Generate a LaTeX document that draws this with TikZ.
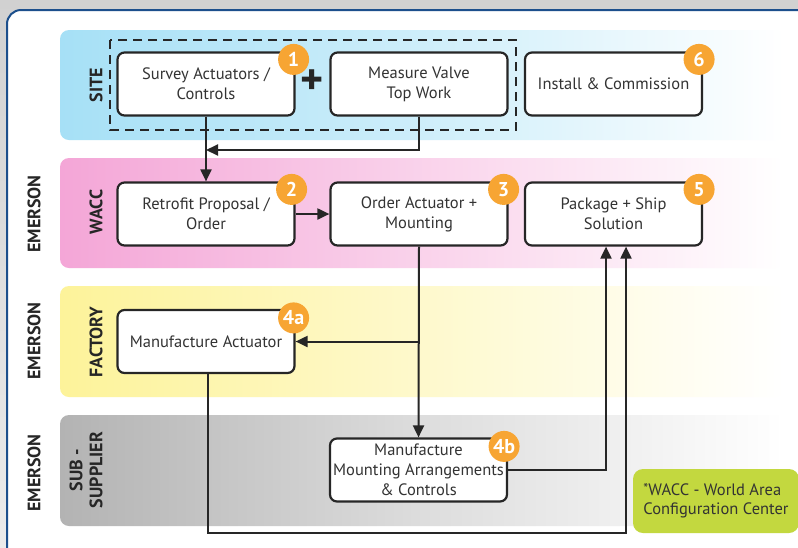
\documentclass[tikz,border=0pt]{standalone}
\usepackage{fontspec}
\setmainfont{PT Sans}
\usetikzlibrary{arrows.meta}
\definecolor{framec}{HTML}{1C4F8C}
\definecolor{sitec}{HTML}{A6E0F6}
\definecolor{waccc}{HTML}{F4A6D7}
\definecolor{factc}{HTML}{FDF39A}
\definecolor{subc}{HTML}{B3B3B3}
\definecolor{badgec}{HTML}{F7A533}
\definecolor{notec}{HTML}{C3D83F}
\definecolor{textc}{HTML}{333333}
\tikzset{
  stepbox/.style={draw=black!85,line width=2.2pt,rounded corners=7pt,fill=white,
    minimum width=177pt,minimum height=63pt,align=center,text=textc,inner sep=1pt,
    font=\fontsize{16.5}{20}\selectfont},
  badge/.style={circle,fill=badgec,text=white,minimum size=31pt,inner sep=0pt,
    font=\fontsize{20}{20}\selectfont\bfseries},
  lane/.style={rotate=90,align=center,text=black!85,
    font=\fontsize{18}{20}\selectfont\bfseries},
  flow/.style={-{Triangle[length=12pt,width=11pt]},line width=2pt,draw=black!85}
}

\begin{document}
\begin{tikzpicture}[x=1pt,y=-1pt]
\useasboundingbox (0,0) rectangle (798,547);
\clip (0,0) rectangle (798,547);
% background and frame
\shade[top color=black!18,bottom color=black!8] (0,0) rectangle (798,547);
\draw[fill=white,draw=framec,line width=2pt,rounded corners=14pt] (7,10) rectangle (840,590);

% lanes
\shade[left color=sitec,right color=white,middle color=sitec!55,rounded corners=9pt] (60,30) rectangle (784,140);
\shade[left color=waccc,right color=white,middle color=waccc!50,rounded corners=9pt] (60,158) rectangle (784,268);
\shade[left color=factc,right color=white,middle color=factc!50,rounded corners=9pt] (60,286) rectangle (784,397);
\shade[left color=subc,right color=white,middle color=subc!45,rounded corners=9pt] (60,415) rectangle (784,526);

% lane labels
\node[lane] (site) at (96,85) {SITE};
\node[lane] (wacc) at (96,212) {WACC};
\node[lane] (factory) at (96,342) {FACTORY};
\node[lane] (sub) at (86,470) {SUB -\\SUPPLIER};
\node[lane] (em1) at (34,214) {EMERSON};
\node[lane] (em2) at (34,341) {EMERSON};
\node[lane] (em3) at (34,473) {EMERSON};

% dashed group
\draw[black!85,line width=2pt,dash pattern=on 9pt off 6pt] (110,40) rectangle (516,130);

% steps
\node[stepbox] (survey) at (206,84) {Survey Actuators /\\Controls};
\node[stepbox] (measure) at (419,84) {Measure Valve\\Top Work};
\node[stepbox] (install) at (613.5,84) {Install \& Commission};
\node[stepbox] (retrofit) at (206,214) {Retrofit Proposal /\\Order};
\node[stepbox] (order) at (419,214) {Order Actuator +\\Mounting};
\node[stepbox] (package) at (613.5,214) {Package + Ship\\Solution};
\node[stepbox] (mfgact) at (206,341.5) {Manufacture Actuator};
\node[stepbox] (mounting) at (418.5,470) {Manufacture\\Mounting Arrangements\\\& Controls};

\node[font=\fontsize{44}{44}\selectfont\bfseries,text=black!85] (plus) at (312,82) {+};

% badges
\node[badge] (n1) at ([xshift=-2pt,yshift=-8pt]survey.north east) {1};
\node[badge] (n6) at ([xshift=-4pt,yshift=-8pt]install.north east) {6};
\node[badge] (n2) at ([xshift=-4pt,yshift=-8pt]retrofit.north east) {2};
\node[badge] (n3) at ([xshift=-5pt,yshift=-8pt]order.north east) {3};
\node[badge] (n5) at ([xshift=-4pt,yshift=-8pt]package.north east) {5};
\node[badge] (n4a) at ([xshift=-2pt,yshift=-9pt]mfgact.north east) {4a};
\node[badge] (n4b) at ([xshift=-4pt,yshift=-9pt]mounting.north east) {4b};

% connectors
\coordinate (join) at (206,150);
\coordinate (low) at (626,533);
\draw[flow] (survey.south) -- (retrofit.north);
\draw[flow] (measure.south) |- (join);
\draw[flow] (retrofit.east) -- (order.west);
\draw[flow] (order.south) -- (mounting.north);
\draw[flow] (order.south |- mfgact.east) -- (mfgact.east);
\draw[flow] ([xshift=2pt]mfgact.south) |- (low) -- ([xshift=12.5pt]package.south);
\draw[flow] (mounting.east) -| ([xshift=-7.5pt]package.south);

% note
\node[fill=notec,rounded corners=10pt,minimum width=166pt,minimum height=64pt,
  align=left,text=textc,font=\fontsize{16.5}{19}\selectfont] (note) at (716,501)
  {\raisebox{0.25ex}{\fontsize{14}{14}\selectfont*}WACC - World Area\\Configuration Center};
\end{tikzpicture}
\end{document}
